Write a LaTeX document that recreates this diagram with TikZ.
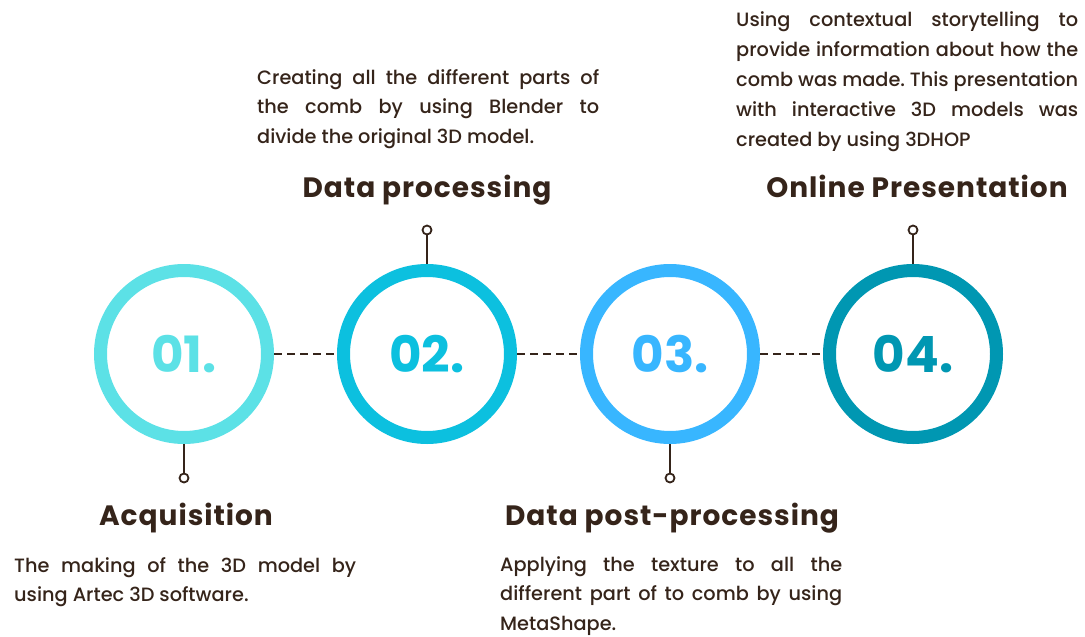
\documentclass[tikz,border=0pt]{standalone}
\usepackage{fontspec}
\setmainfont{Poppins}
\newfontfamily\headfont{Poppins}[LetterSpace=3.5]
\newfontfamily\bodyfont{Poppins Medium}
\usepackage{tikz}
\usetikzlibrary{positioning,calc}
\definecolor{stepcyan}{HTML}{5CE1E6}
\definecolor{stepteal}{HTML}{0CC0DF}
\definecolor{stepsky}{HTML}{38B6FF}
\definecolor{stepdeep}{HTML}{0097B2}
\definecolor{inkbrown}{HTML}{35241A}
\frenchspacing
\hyphenpenalty=10000
\tolerance=10000

\begin{document}
\begin{tikzpicture}[x=1pt, y=-1pt,
  ring/.style={circle, draw=#1, line width=13pt, minimum size=167pt, inner sep=0pt, text=#1, font=\fontsize{50}{50}\selectfont\bfseries},
  link/.style={draw=inkbrown, line width=1.8pt, dash pattern=on 8pt off 5pt},
  stem/.style={draw=inkbrown, line width=1.8pt},
  knob/.style={circle, draw=inkbrown, line width=1.8pt, fill=white, minimum size=9pt, inner sep=0pt},
  title/.style={anchor=base, text=inkbrown, font=\headfont\fontsize{28}{30}\selectfont\bfseries},
  desc/.style={anchor=base west, inner sep=0pt, text width=342pt, align=justify, text=inkbrown, font=\bodyfont\fontsize{19.3}{29.8}\selectfont}
]
\useasboundingbox (0,0) rectangle (1085,637);

% the four steps
\node[ring=stepcyan] (r1) at (184,354) {01.};
\node[ring=stepteal] (r2) at (427,354) {02.};
\node[ring=stepsky]  (r3) at (670,354) {03.};
\node[ring=stepdeep] (r4) at (913,354) {04.};
\foreach \a/\b in {r1/r2,r2/r3,r3/r4} \draw[link] (\a.east) -- (\b.west);

% pins
\node[knob] (k1) at (184,478) {};
\node[knob] (k2) at (427,230) {};
\node[knob] (k3) at (670,478) {};
\node[knob] (k4) at (913,230) {};
\draw[stem] (r1.south) -- (k1.north); \draw[stem] (r3.south) -- (k3.north);
\draw[stem] (r2.north) -- (k2.south); \draw[stem] (r4.north) -- (k4.south);

% titles and texts
\node[title] (t1) at (186,525) {Acquisition};
\node[title] (t2) at (427,197) {Data processing};
\node[title] (t3) at (672,525) {Data post-processing};
\node[title] (t4) at (917,197) {Online Presentation};

\node[desc] (d1) at (14,572) {The making of the 3D model by\linebreak using Artec 3D software.};
\node[desc] (d2) at (257,84) {Creating all the different parts of\linebreak the comb by using Blender to\linebreak divide the original 3D model.};
\node[desc] (d3) at (500,571) {Applying the texture to all the\linebreak different part of to comb by using\linebreak MetaShape.};
\node[desc] (d4) at (736,27) {Using contextual storytelling to\linebreak provide information about how the\linebreak comb was made. This presentation\linebreak with interactive 3D models was\linebreak created by using 3DHOP};
\end{tikzpicture}
\end{document}
